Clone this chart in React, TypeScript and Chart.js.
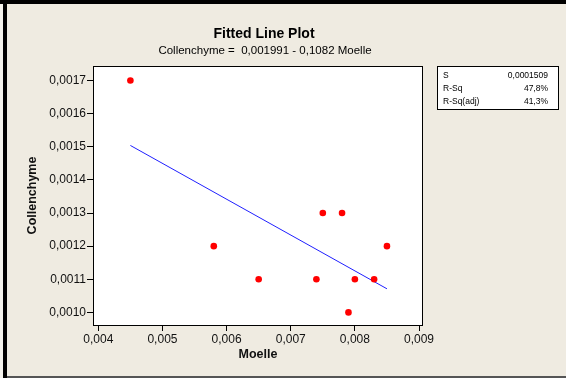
import React, { useEffect, useRef } from "react";
import { Chart, registerables } from "chart.js";

Chart.register(...registerables);

const moelle = [0.0045, 0.0058, 0.0065, 0.0074, 0.0075, 0.0078, 0.0079, 0.008, 0.0083, 0.0085];
const collenchyme = [0.0017, 0.0012, 0.0011, 0.0011, 0.0013, 0.0013, 0.001, 0.0011, 0.0011, 0.0012];
const fitIntercept = 0.001991;
const fitSlope = -0.1082;
const fitX = [0.0045, 0.0085];
const xTicks = [0.004, 0.005, 0.006, 0.007, 0.008, 0.009];
const yTicks = [0.001, 0.0011, 0.0012, 0.0013, 0.0014, 0.0015, 0.0016, 0.0017];
const titleText = "Fitted Line Plot";
const subtitleText = "Collenchyme =  0,001991 - 0,1082 Moelle";
const statLabels = ["S", "R-Sq", "R-Sq(adj)"];
const statValues = ["0,0001509", "47,8%", "41,3%"];

const FONT = "'Liberation Sans', Arial, sans-serif";
const BG = "#efebe1";

const decor = {
  id: "decor",
  beforeDraw(chart: any) {
    const { ctx, width, height, chartArea } = chart;
    ctx.save();
    ctx.fillStyle = BG;
    ctx.fillRect(0, 0, width, height);
    ctx.fillStyle = "#f4f2ec";
    ctx.fillRect(0, 0, 3, height);
    ctx.fillStyle = "#000";
    ctx.fillRect(0, 0, width, 4);
    ctx.fillRect(3, 0, 4, height);
    ctx.fillStyle = "#555";
    ctx.fillRect(7, height - 2, width - 7, 2);
    ctx.fillStyle = "#fff";
    ctx.fillRect(chartArea.left, chartArea.top, chartArea.right - chartArea.left, chartArea.bottom - chartArea.top);
    ctx.restore();
  },
  afterDraw(chart: any) {
    const { ctx, chartArea } = chart;
    ctx.save();
    ctx.strokeStyle = "#000";
    ctx.lineWidth = 1;
    ctx.strokeRect(chartArea.left + 0.5, chartArea.top + 0.5, chartArea.right - chartArea.left - 1, chartArea.bottom - chartArea.top);
    // titles
    ctx.fillStyle = "#000";
    ctx.textAlign = "center";
    ctx.textBaseline = "middle";
    ctx.font = `bold 14px ${FONT}`;
    ctx.fillText(titleText, 264, 34);
    ctx.font = `11.5px ${FONT}`;
    ctx.fillText(subtitleText, 265, 51);
    // stats box
    const bx = chartArea.right + 14;
    const by = chartArea.top;
    const bw = 122;
    const bh = 44;
    ctx.fillStyle = "#fff";
    ctx.fillRect(bx, by, bw, bh);
    ctx.strokeStyle = "#000";
    ctx.strokeRect(bx + 0.5, by + 0.5, bw - 1, bh - 1);
    ctx.fillStyle = "#000";
    ctx.font = `8.5px ${FONT}`;
    statLabels.forEach((l, i) => {
      const y = by + 10 + i * 13;
      ctx.textAlign = "left";
      ctx.fillText(l, bx + 6, y);
      ctx.textAlign = "right";
      ctx.fillText(statValues[i], bx + bw - 11, y);
    });
    ctx.restore();
  },
};

export default function App() {
  const ref = useRef<HTMLCanvasElement | null>(null);
  useEffect(() => {
    if (!ref.current) return;
    const points = moelle.map((x, i) => ({ x, y: collenchyme[i] }));
    const fit = fitX.map((x) => ({ x, y: fitIntercept + fitSlope * x }));
    const chart = new Chart(ref.current, {
      type: "scatter",
      data: {
        datasets: [
          {
            data: fit,
            showLine: true,
            borderColor: "#2020ff",
            borderWidth: 1,
            pointRadius: 0,
            order: 2,
          },
          {
            data: points,
            backgroundColor: "#ff0000",
            borderColor: "#ff0000",
            pointRadius: 3.3,
            borderWidth: 0,
            order: 1,
          },
        ],
      },
      options: {
        responsive: false,
        animation: false,
        layout: { padding: { left: 0, top: 66, right: 143, bottom: 0 } },
        plugins: { legend: { display: false }, tooltip: { enabled: false }, title: { display: false } },
        scales: {
          x: {
            type: "linear",
            min: 0.003917,
            max: 0.009062,
            afterFit: (s: any) => {
              s.height = 53;
            },
            afterBuildTicks: (s: any) => {
              s.ticks = xTicks.map((v) => ({ value: v }));
            },
            border: { display: false },
            grid: { drawOnChartArea: false, drawTicks: true, tickLength: 6, tickColor: "#000", lineWidth: 1 },
            ticks: {
              padding: 1,
              color: "#111",
              font: { family: FONT, size: 12 },
              maxRotation: 0,
              callback: (v: any) => Number(v).toFixed(3).replace(".", ","),
            },
            title: {
              display: true,
              text: "Moelle",
              color: "#111",
              font: { family: FONT, size: 12.5, weight: "bold" },
              padding: { top: 0, bottom: 15.5 },
            },
          },
          y: {
            type: "linear",
            min: 0.000962,
            max: 0.001744,
            afterFit: (s: any) => {
              s.width = 93;
            },
            afterBuildTicks: (s: any) => {
              s.ticks = yTicks.map((v) => ({ value: v }));
            },
            border: { display: false },
            grid: { drawOnChartArea: false, drawTicks: true, tickLength: 6, tickColor: "#000", lineWidth: 1 },
            ticks: {
              padding: 1,
              color: "#111",
              font: { family: FONT, size: 12 },
              callback: (v: any) => Number(v).toFixed(4).replace(".", ","),
            },
            title: {
              display: true,
              text: "Collenchyme",
              color: "#111",
              font: { family: FONT, size: 12.5, weight: "bold" },
              padding: { top: 25.5, bottom: 0 },
            },
          },
        },
      },
      plugins: [decor],
    } as any);
    return () => chart.destroy();
  }, []);
  return (
    <div style={{ position: "absolute", left: 0, top: 0, width: 566, height: 378 }}>
      <canvas ref={ref} width={566} height={378} />
    </div>
  );
}
